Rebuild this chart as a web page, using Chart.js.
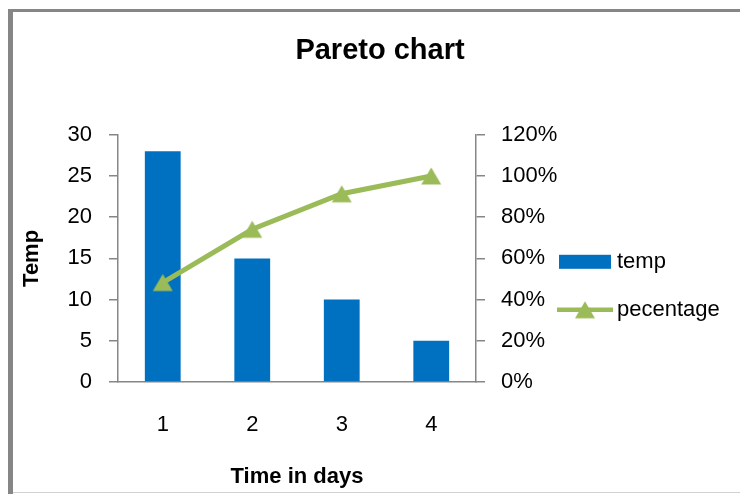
<!DOCTYPE html>
<html>
<head>
<meta charset="utf-8">
<title>Pareto chart</title>
<script src="https://cdn.jsdelivr.net/npm/chart.js@4/dist/chart.umd.min.js"></script>
<style>
  html, body { margin: 0; padding: 0; background: #fff; }
  canvas { display: block; }
</style>
</head>
<body>
<canvas id="pareto" width="740" height="494"></canvas>
<script>
// Daily temperature counts and their cumulative share
const days = ['1', '2', '3', '4'];
const temp = [28, 15, 10, 5];
const percentage = [48.28, 74.14, 91.38, 100];

// Axis tick values and labels
const tempTicks = [0, 5, 10, 15, 20, 25, 30];
const percentTicks = [0, 20, 40, 60, 80, 100, 120];
const percentTickLabels = ['0%', '20%', '40%', '60%', '80%', '100%', '120%'];

const BAR_BLUE = '#0070C0';
const LINE_GREEN = '#9BBB59';
const AXIS_GREY = '#868686';

Chart.defaults.font.family = '"Liberation Sans", Arial, sans-serif';
Chart.defaults.color = '#000';

// Triangle marker, centred on its bounding box
function makeTriangle(color) {
  const c = document.createElement('canvas');
  c.width = 22; c.height = 20;
  const g = c.getContext('2d');
  g.fillStyle = color;
  g.beginPath();
  g.moveTo(11, 1.5);
  g.lineTo(21, 18.5);
  g.lineTo(1, 18.5);
  g.closePath();
  g.fill();
  return c;
}
const triangle = makeTriangle(LINE_GREEN);

// Outer frame and the side legend
const frameAndLegend = {
  id: 'frameAndLegend',
  beforeDraw(chart) {
    const ctx = chart.ctx;
    ctx.save();
    ctx.fillStyle = '#fff';
    ctx.fillRect(0, 0, chart.width, chart.height);
    ctx.fillStyle = AXIS_GREY;
    ctx.fillRect(8, 9, 5, chart.height - 9);
    ctx.fillRect(8, 9, chart.width - 8, 3);
    ctx.fillStyle = '#d0d0d0';
    ctx.fillRect(13, 492, chart.width - 13, 1);
    ctx.restore();
  },
  afterDraw(chart) {
    const ctx = chart.ctx;
    const area = chart.chartArea;
    const x0 = area.right + 82;
    const textX = area.right + 141;
    const [barSet, lineSet] = chart.data.datasets;
    ctx.save();
    ctx.font = '22px "Liberation Sans", Arial, sans-serif';
    ctx.fillStyle = '#000';
    ctx.textBaseline = 'middle';
    ctx.textAlign = 'left';

    // bar series entry
    const y1 = area.top + 127;
    ctx.fillStyle = barSet.backgroundColor;
    ctx.fillRect(x0 + 1, y1 - 7, 52, 14);
    ctx.fillStyle = '#000';
    ctx.fillText(barSet.label, textX, y1);

    // line series entry
    const y2 = area.top + 175;
    ctx.strokeStyle = lineSet.borderColor;
    ctx.lineWidth = 4.5;
    ctx.beginPath();
    ctx.moveTo(x0 - 1, y2);
    ctx.lineTo(x0 + 55, y2);
    ctx.stroke();
    ctx.drawImage(triangle, x0 + 27 - triangle.width / 2, y2 - triangle.height / 2);
    ctx.fillStyle = '#000';
    ctx.fillText(lineSet.label, textX, y2);
    ctx.restore();
  }
};

new Chart(document.getElementById('pareto'), {
  data: {
    labels: days,
    datasets: [
      {
        type: 'bar',
        label: 'temp',
        data: temp,
        backgroundColor: BAR_BLUE,
        borderWidth: 0,
        yAxisID: 'y',
        barPercentage: 0.4,
        categoryPercentage: 1,
        order: 2
      },
      {
        type: 'line',
        label: 'pecentage',
        data: percentage,
        borderColor: LINE_GREEN,
        backgroundColor: LINE_GREEN,
        borderWidth: 5,
        pointStyle: triangle,
        pointRadius: 11,
        pointHoverRadius: 11,
        tension: 0,
        yAxisID: 'y1',
        order: 1
      }
    ]
  },
  options: {
    responsive: false,
    animation: false,
    events: [],
    layout: { padding: { left: 20, right: 0, top: 0, bottom: 0 } },
    plugins: {
      legend: { display: false },
      tooltip: { enabled: false },
      title: {
        display: true,
        text: 'Pareto chart',
        color: '#000',
        font: { size: 29, weight: 'bold' },
        padding: { top: 34, bottom: 66 }
      }
    },
    scales: {
      x: {
        type: 'category',
        offset: true,
        grid: { display: true, drawOnChartArea: false, drawTicks: false, tickLength: 0 },
        border: { display: true, color: AXIS_GREY, width: 1.5 },
        ticks: { font: { size: 22 }, color: '#000', padding: 30 },
        title: {
          display: true,
          text: 'Time in days',
          color: '#000',
          font: { size: 22, weight: 'bold' },
          padding: { top: 0, bottom: 4 }
        },
        afterFit(scale) { scale.height = 112; }
      },
      y: {
        type: 'linear',
        position: 'left',
        min: 0,
        max: 30,
        grid: { display: true, drawOnChartArea: false, drawTicks: true, tickLength: 9, color: AXIS_GREY, lineWidth: 1.5 },
        border: { display: true, color: AXIS_GREY, width: 1.5 },
        ticks: { font: { size: 22 }, color: '#000', padding: 17 },
        afterBuildTicks(scale) { scale.ticks = tempTicks.map(v => ({ value: v })); },
        title: {
          display: true,
          text: 'Temp',
          color: '#000',
          font: { size: 22, weight: 'bold', lineHeight: 1.1 },
          padding: { top: 0, bottom: 0 }
        },
        afterFit(scale) { scale.width = 98; }
      },
      y1: {
        type: 'linear',
        position: 'right',
        min: 0,
        max: 120,
        grid: { display: true, drawOnChartArea: false, drawTicks: true, tickLength: 9, color: AXIS_GREY, lineWidth: 1.5 },
        border: { display: true, color: AXIS_GREY, width: 1.5 },
        ticks: {
          font: { size: 22 },
          color: '#000',
          padding: 16,
          callback: (value, index) => percentTickLabels[index]
        },
        afterBuildTicks(scale) { scale.ticks = percentTicks.map(v => ({ value: v })); },
        afterFit(scale) { scale.width = 264; }
      }
    }
  },
  plugins: [frameAndLegend]
});
</script>
</body>
</html>
